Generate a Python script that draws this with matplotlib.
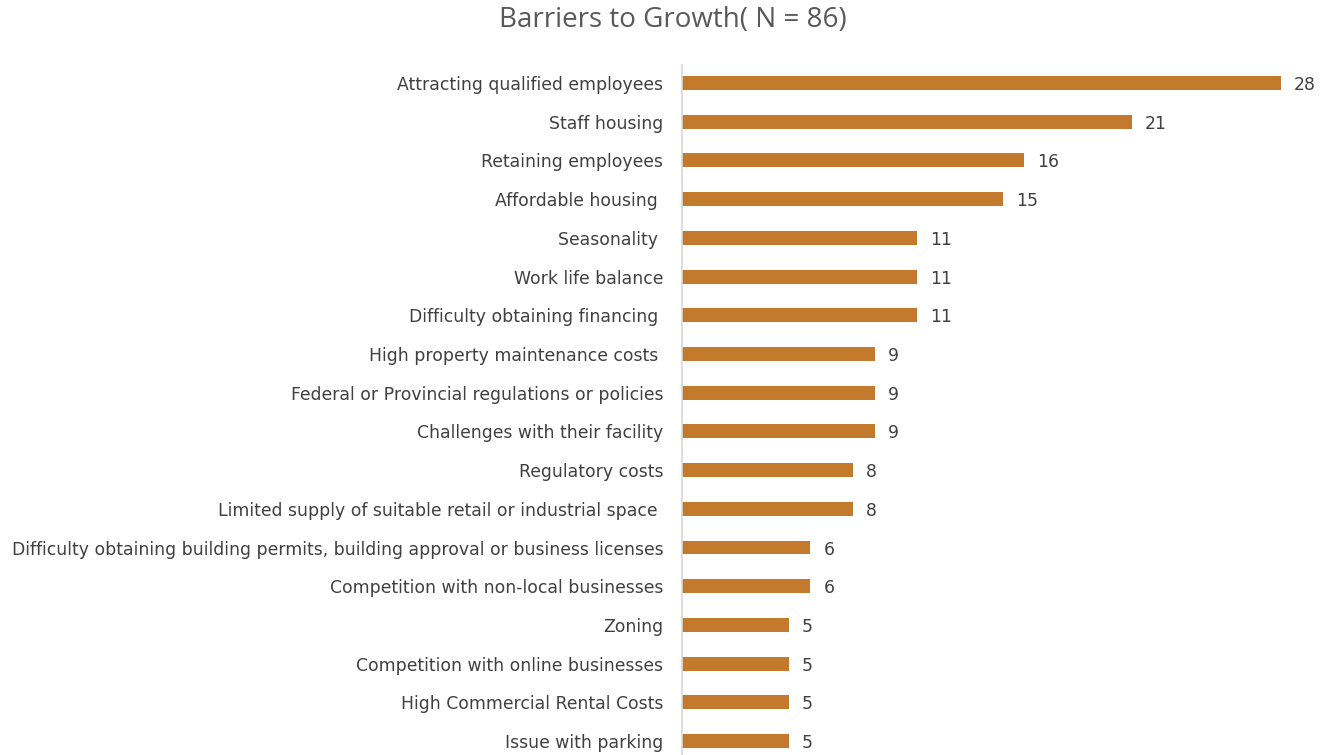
import matplotlib.pyplot as plt

# barriers, top to bottom as listed
barriers = [
    "Attracting qualified employees",
    "Staff housing",
    "Retaining employees",
    "Affordable housing ",
    "Seasonality ",
    "Work life balance",
    "Difficulty obtaining financing ",
    "High property maintenance costs ",
    "Federal or Provincial regulations or policies",
    "Challenges with their facility",
    "Regulatory costs",
    "Limited supply of suitable retail or industrial space ",
    "Difficulty obtaining building permits, building approval or business licenses",
    "Competition with non-local businesses",
    "Zoning",
    "Competition with online businesses",
    "High Commercial Rental Costs",
    "Issue with parking",
]
counts = [28, 21, 16, 15, 11, 11, 11, 9, 9, 9, 8, 8, 6, 6, 5, 5, 5, 5]

bar_color = "#C47A2C"
text_color = "#404040"

fig = plt.figure(figsize=(13.22, 7.55), dpi=100)
ax = fig.add_axes([0.5159, 0.0, 0.4841, 0.9139])

pos = list(range(len(barriers)))
ax.barh(pos, counts, height=0.36, color=bar_color)

for y, v in zip(pos, counts):
    ax.text(v + 0.6, y, str(v), va="center_baseline", ha="left",
            fontsize=12.4, color=text_color, family="DejaVu Sans")

ax.set_yticks(pos)
ax.set_yticklabels(barriers, fontsize=12.4, color=text_color, family="DejaVu Sans")
ax.tick_params(axis="y", length=0, pad=13.5)
ax.set_xticks([])
ax.set_xlim(0, 29.9)
ax.set_ylim(17.36, -0.465)

for s in ["top", "right", "bottom"]:
    ax.spines[s].set_visible(False)
ax.spines["left"].set_color("#D9D9D9")
ax.spines["left"].set_linewidth(1.2)

fig.text(0.509, 0.973, "Barriers to Growth( N = 86)", ha="center", va="center",
         fontsize=20, color="#595959", family="Open Sans")

fig.savefig("out.png", dpi=100)
